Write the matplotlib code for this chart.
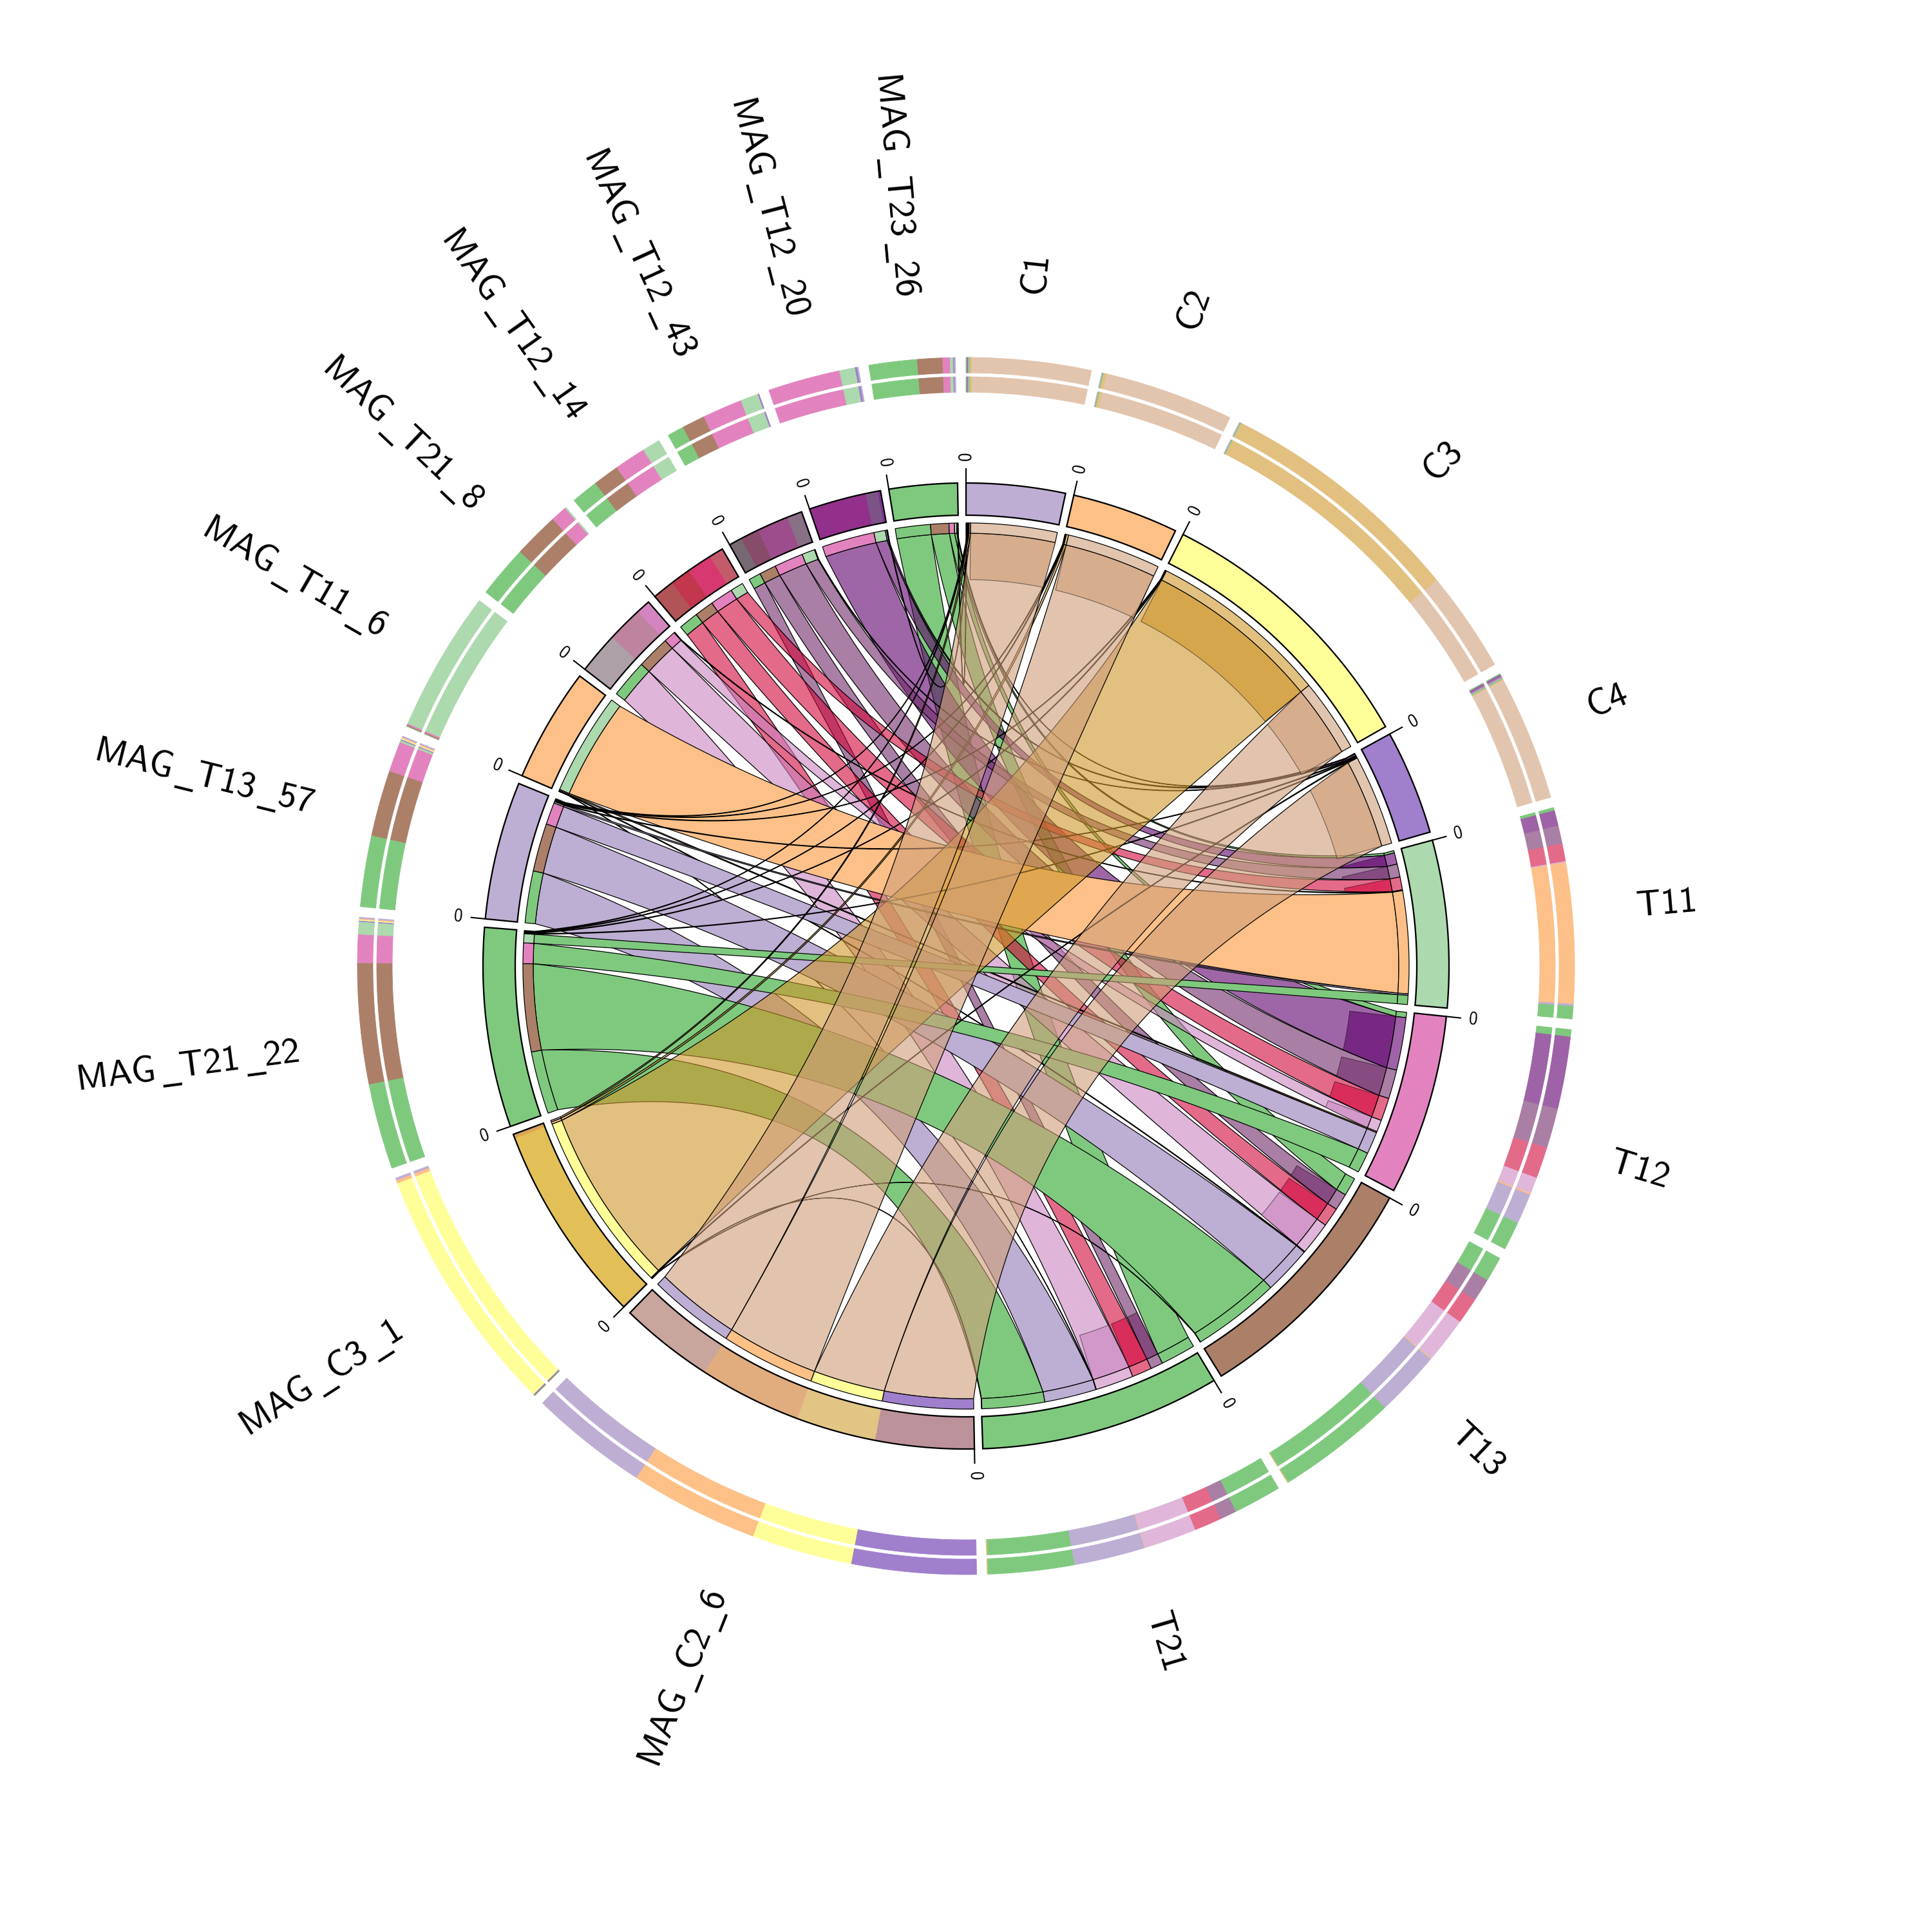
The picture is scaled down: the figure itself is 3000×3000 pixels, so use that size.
import numpy as np
import matplotlib
matplotlib.use('Agg')
import matplotlib.pyplot as plt
from matplotlib.path import Path
from matplotlib.patches import PathPatch
import matplotlib.colors as mcolors

# labels in Computer Modern Sans; the underscore comes from DejaVu Sans
plt.rcParams['mathtext.fontset'] = 'custom'
plt.rcParams['mathtext.sf'] = 'cmss10'
plt.rcParams['mathtext.rm'] = 'cmss10'
plt.rcParams['mathtext.tt'] = 'DejaVu Sans'

# sectors, clockwise from 12 o'clock
samples = ['C1', 'C2', 'C3', 'C4', 'T11', 'T12', 'T13', 'T21']
mags = ['MAG_C2_6', 'MAG_C3_1', 'MAG_T21_22', 'MAG_T13_57', 'MAG_T11_6',
        'MAG_T21_8', 'MAG_T12_14', 'MAG_T12_43', 'MAG_T12_20', 'MAG_T23_26']

sample_colors = ['#beaed4', '#fdc086', '#ffff99', '#a07fcc',
                 '#acd9ae', '#e283bf', '#ab7f68', '#7fc97f']
mag_colors = ['#e2c5ae', '#e2c080', '#7fc97f', '#bdaed3', '#fcc088',
              '#e0b6da', '#e46a8a', '#a97fa5', '#9e62a6', '#7fc97f']
# MAGs whose links are see-through and get the darker band at the sample end
mag_marked = [True, True, False, False, False, True, True, True, True, False]

# abundance of each MAG (same order as mags) in each sample
ab_C1 = [11.3, 0.2, 0.1, 0.1, 0.0, 0.0, 0.0, 0.0, 0.1, 0.1]
ab_C2 = [12.3, 0.3, 0.1, 0.1, 0.0, 0.0, 0.0, 0.0, 0.0, 0.0]
ab_C3 = [9.6, 23.8, 0.1, 0.1, 0.0, 0.0, 0.0, 0.0, 0.0, 0.0]
ab_C4 = [11.9, 0.1, 0.1, 0.1, 0.0, 0.0, 0.0, 0.1, 0.2, 0.1]
ab_T11 = [0.0, 0.0, 1.2, 0.2, 13.4, 0.1, 1.7, 1.7, 1.5, 0.3]
ab_T12 = [0.0, 0.0, 2.7, 2.9, 0.15, 1.55, 3.0, 3.8, 6.9, 0.7]
ab_T13 = [0.0, 0.05, 11.5, 6.3, 0.1, 4.35, 2.5, 2.2, 0.0, 2.4]
ab_T21 = [0.0, 0.05, 8.2, 6.8, 0.05, 5.0, 2.6, 1.6, 0.0, 4.6]

mat = np.array([ab_C1, ab_C2, ab_C3, ab_C4, ab_T11, ab_T12, ab_T13, ab_T21])
n_s, n_m = mat.shape

cx, cy = 1500.0, 1500.0
R_LINK = 672
R_RING = (672, 688)
R_BLOCK = (700, 750)
R_BAND = (600, 672)
R_TRACK2 = (891, 915)
R_TRACK1 = (921, 945)
GAP = 1.0
ALPHA = 0.6


def base_of(c):
    rgb = np.array(mcolors.to_rgb(c))
    return tuple(np.clip(1 - (1 - rgb) / ALPHA, 0, 1))


def blend(top, under):
    t = np.array(mcolors.to_rgb(top))
    u = np.array(mcolors.to_rgb(under))
    return tuple(t + (1 - ALPHA) * (u - 1))


def xy(r, a):
    t = np.radians(a)
    return np.array([cx + r * np.cos(t), cy + r * np.sin(t)])


def arc(r, a1, a2):
    n = max(2, int(abs(a2 - a1) * 4) + 2)
    t = np.radians(np.linspace(a1, a2, n))
    return np.column_stack([cx + r * np.cos(t), cy + r * np.sin(t)])


def bez(p0, p2):
    c0 = np.array([cx, cy])
    c = c0 + 0.3 * ((p0 + p2) / 2 - c0)
    t = np.linspace(0, 1, 80)[:, None]
    return (1 - t) ** 2 * p0 + 2 * (1 - t) * t * c + t ** 2 * p2


def closed(v):
    v = np.vstack([v, v[:1]])
    codes = [Path.MOVETO] + [Path.LINETO] * (len(v) - 2) + [Path.CLOSEPOLY]
    return Path(v, codes)


def ribbon(a1, a2, b1, b2, r):
    v = np.vstack([arc(r, a1, a2), bez(xy(r, a2), xy(r, b1)),
                   arc(r, b1, b2), bez(xy(r, b2), xy(r, a1))])
    return closed(v)


def annulus(r1, r2, a1, a2):
    return closed(np.vstack([arc(r2, a1, a2), arc(r1, a2, a1)]))


def tex_label(name):
    parts = [r'\mathsf{' + p + '}' for p in name.split('_')]
    return '$' + r'\,\mathtt{\_}'.join(parts) + '$'


# sector layout
sizes = list(mat.sum(axis=1)) + list(mat.sum(axis=0))
names = samples + mags
deg = (360 - GAP * len(sizes)) / sum(sizes)
starts, ends = [], []
cur = 90.0
for s in sizes:
    starts.append(cur)
    ends.append(cur - s * deg)
    cur -= s * deg + GAP

s_pos, m_pos = {}, {}
for i in range(n_s):
    a = starts[i]
    for j in reversed(range(n_m)):
        if mat[i, j] > 0:
            s_pos[(i, j)] = (a, a - mat[i, j] * deg)
            a -= mat[i, j] * deg
for j in range(n_m):
    a = starts[n_s + j]
    for i in reversed(range(n_s)):
        if mat[i, j] > 0:
            m_pos[(i, j)] = (a, a - mat[i, j] * deg)
            a -= mat[i, j] * deg

fig = plt.figure(figsize=(10, 10), dpi=300)
ax = fig.add_axes([0, 0, 1, 1])
ax.set_xlim(0, 3000)
ax.set_ylim(0, 3000)
ax.set_aspect('equal')
ax.axis('off')

# links, drawn MAG by MAG from the last sector back to the first
for j in reversed(range(n_m)):
    for i in reversed(range(n_s)):
        if mat[i, j] <= 0:
            continue
        a1, a2 = m_pos[(i, j)]
        b1, b2 = s_pos[(i, j)]
        if mag_marked[j]:
            fc = base_of(mag_colors[j]) + (ALPHA,)
        else:
            fc = mag_colors[j]
        p = PathPatch(ribbon(a1, a2, b1, b2, R_LINK), facecolor=fc,
                      edgecolor='black', lw=0.3, zorder=2)
        ax.add_patch(p)
        if mag_marked[j]:
            band = PathPatch(annulus(R_BAND[0], R_LINK, b1, b2), facecolor=fc,
                             edgecolor=(0, 0, 0, 0.5), lw=0.25, zorder=2)
            ax.add_patch(band)
            band.set_clip_path(p)

# thin rings and outer tracks
for (i, j), (b1, b2) in s_pos.items():
    ax.add_patch(PathPatch(annulus(*R_RING, b1, b2), facecolor=mag_colors[j],
                           edgecolor='black', lw=0.3, zorder=3))
    for tr in (R_TRACK1, R_TRACK2):
        ax.add_patch(PathPatch(annulus(*tr, b1, b2), facecolor=mag_colors[j],
                               edgecolor=mag_colors[j], lw=0.2, zorder=3))
for (i, j), (a1, a2) in m_pos.items():
    ax.add_patch(PathPatch(annulus(*R_RING, a1, a2), facecolor=sample_colors[i],
                           edgecolor='black', lw=0.3, zorder=3))
    for tr in (R_TRACK1, R_TRACK2):
        ax.add_patch(PathPatch(annulus(*tr, a1, a2), facecolor=sample_colors[i],
                               edgecolor=sample_colors[i], lw=0.2, zorder=3))
    c = blend(mag_colors[j], sample_colors[i]) if mag_marked[j] else mag_colors[j]
    ax.add_patch(PathPatch(annulus(*R_BLOCK, a1, a2), facecolor=c,
                           edgecolor=c, lw=0.2, zorder=3))

# sector blocks, ticks, labels
for k, name in enumerate(names):
    a0, a1 = starts[k], ends[k]
    fc = sample_colors[k] if k < n_s else 'none'
    ax.add_patch(PathPatch(annulus(*R_BLOCK, a0, a1), facecolor=fc,
                           edgecolor='black', lw=0.55, zorder=4))
    p0, p1 = xy(R_BLOCK[1], a0), xy(R_BLOCK[1] + 22, a0)
    ax.plot([p0[0], p1[0]], [p0[1], p1[1]], color='black', lw=0.5, zorder=4)
    rot0 = a0 if np.cos(np.radians(a0)) >= 0 else a0 - 180
    pt = xy(R_BLOCK[1] + 42, a0)
    ax.text(pt[0], pt[1], '0', fontsize=6.5, family='cmss10',
            rotation=rot0, rotation_mode='anchor', ha='center', va='center')

    mid = (a0 + a1) / 2
    pl = xy(1045, mid)
    if np.cos(np.radians(mid)) >= 0:
        ax.text(pl[0], pl[1], tex_label(name), fontsize=13.5, rotation=mid,
                rotation_mode='anchor', ha='left', va='center')
    else:
        ax.text(pl[0], pl[1], tex_label(name), fontsize=13.5, rotation=mid - 180,
                rotation_mode='anchor', ha='right', va='center')

fig.savefig('out.png', dpi=300)
